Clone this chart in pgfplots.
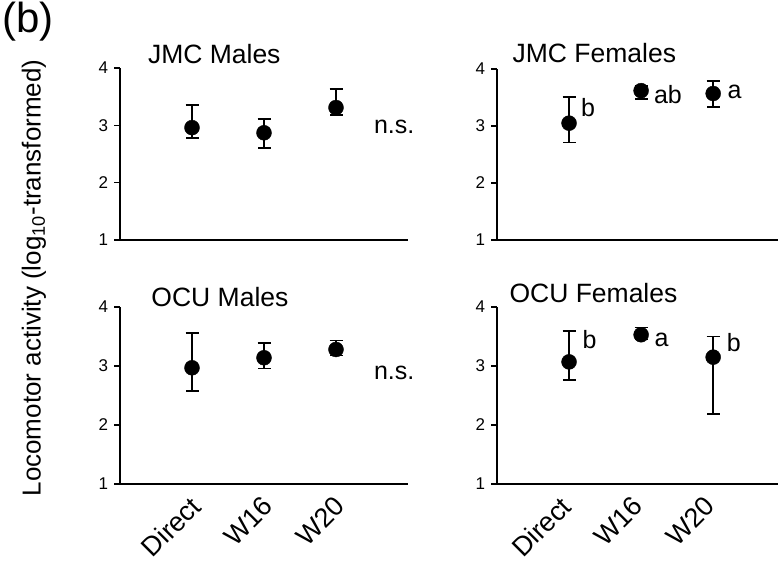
\documentclass[border=0pt]{standalone}
\usepackage{fontspec}
\setmainfont{Liberation Sans}
\usepackage{pgfplots}
\pgfplotsset{compat=1.18}

\newcommand\xtfont{\fontsize{27}{27}\selectfont}

\pgfplotsset{
  panel/.style={
    scale only axis,
    anchor=south west,
    axis x line*=bottom,
    axis y line*=left,
    axis line style={-, line width=1.6pt},
    ymin=1, ymax=4,
    ytick={1,2,3,4},
    yticklabels={1,2,3,4},
    yticklabel style={scale=1.7},
    xmin=0,
    xtick={1,2,3},
    xticklabels={},
    tick align=outside,
    major tick length=6pt,
    ytick style={line width=1.6pt, black},
    xtick style={draw=none},
    clip=false,
  },
  bottomrow/.style={
    xticklabels={Direct,W16,W20},
    xticklabel style={font=\xtfont, xshift=#1, yshift=0pt, rotate=45, anchor=north east},
  },
  pts/.style={
    only marks, black,
    mark=*, mark size=7.5pt,
    mark options={fill=black, draw=black},
    error bars/.cd, y dir=both, y explicit,
    error mark=-,
    error bar style={line width=1.6pt, black},
    error mark options={rotate=90, line width=1.6pt, mark size=6.5pt, black},
  },
}
\tikzset{
  lbl/.style={anchor=west, font=\fontsize{25}{25}\selectfont},
  ttl/.style={anchor=base west, font=\fontsize{26.5}{26.5}\selectfont},
}

\begin{document}
\begin{tikzpicture}
\path[use as bounding box] (0pt,0pt) rectangle (778pt,-563pt);

% JMC Males
\begin{axis}[panel, at={(120pt,-240pt)}, width=288pt, height=172pt, xmax=4]
\addplot[pts] coordinates {
  (1,2.96) += (0,0.39) -= (0,0.18)
  (2,2.87) += (0,0.24) -= (0,0.27)
  (3,3.31) += (0,0.32) -= (0,0.13)
};
\node[lbl] at (axis cs:3.48,2.98) {n.s.};
\node[ttl] at (rel axis cs:0.085,1) [yshift=5pt] {JMC Males};
\end{axis}

% JMC Females
\begin{axis}[panel, at={(497pt,-240pt)}, width=281pt, height=171pt, xmax=3.9]
\addplot[pts] coordinates {
  (1,3.05) += (0,0.46) -= (0,0.34)
  (2,3.62) += (0,0.08) -= (0,0.15)
  (3,3.57) += (0,0.22) -= (0,0.24)
};
\node[lbl] at (axis cs:1.12,3.33) {b};
\node[lbl] at (axis cs:2.13,3.55) {ab};
\node[lbl] at (axis cs:3.15,3.6) {a};
\node[ttl] at (rel axis cs:0.043,1) [yshift=7pt] {JMC Females};
\end{axis}

% OCU Males
\begin{axis}[panel, bottomrow=-3pt, at={(120pt,-484pt)}, width=288pt, height=177pt, xmax=4]
\addplot[pts] coordinates {
  (1,2.97) += (0,0.59) -= (0,0.39)
  (2,3.14) += (0,0.25) -= (0,0.18)
  (3,3.28) += (0,0.15) -= (0,0.10)
};
\node[lbl] at (axis cs:3.48,2.88) {n.s.};
\node[ttl] at (rel axis cs:0.097,1) [yshift=1pt] {OCU Males};
\end{axis}

% OCU Females
\begin{axis}[panel, bottomrow=-10pt, at={(497pt,-484pt)}, width=281pt, height=177pt, xmax=3.9]
\addplot[pts] coordinates {
  (1,3.07) += (0,0.52) -= (0,0.31)
  (2,3.53) += (0,0.12) -= (0,0.08)
  (3,3.15) += (0,0.35) -= (0,0.96)
};
\node[lbl] at (axis cs:1.14,3.44) {b};
\node[lbl] at (axis cs:2.14,3.44) {a};
\node[lbl] at (axis cs:3.14,3.39) {b};
\node[ttl] at (rel axis cs:0.032,1) [yshift=5pt] {OCU Females};
\end{axis}

\node[anchor=north west, inner sep=0pt, font=\fontsize{42}{42}\selectfont] at (2pt,-2pt) {(b)};
\node[rotate=90, font=\fontsize{26}{26}\selectfont, inner sep=0pt] at (34pt,-278pt)
  {Locomotor activity (log\textsubscript{10}-transformed)};
\end{tikzpicture}
\end{document}
